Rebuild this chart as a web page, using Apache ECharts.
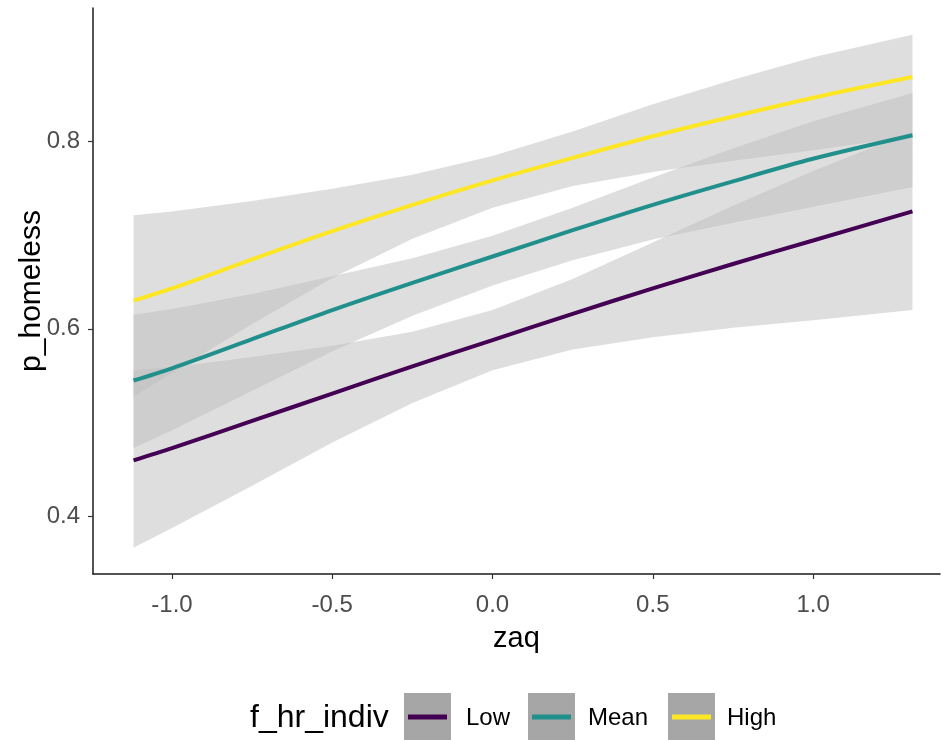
<!DOCTYPE html>
<html>
<head>
<meta charset="utf-8">
<script src="https://cdn.jsdelivr.net/npm/echarts@6/dist/echarts.min.js"></script>
<style>
  html, body { margin: 0; padding: 0; background: #ffffff; }
  #chart { width: 941px; height: 740px; }
</style>
</head>
<body>
<div id="chart"></div>
<script>
// Predicted probability of homelessness by zaq, one curve per level of f_hr_indiv
const groups = ['Low', 'Mean', 'High'];
const zaq = [-1.12, -1.0, -0.75, -0.5, -0.25, 0.0, 0.25, 0.5, 0.75, 1.0, 1.31];

const fitLow  = [0.460, 0.473, 0.502, 0.531, 0.560, 0.588, 0.616, 0.643, 0.669, 0.694, 0.725];
const loLow   = [0.367, 0.388, 0.433, 0.479, 0.521, 0.556, 0.578, 0.591, 0.601, 0.609, 0.620];
const hiLow   = [0.556, 0.559, 0.570, 0.582, 0.597, 0.620, 0.653, 0.692, 0.731, 0.768, 0.810];

const fitMean = [0.545, 0.558, 0.589, 0.620, 0.649, 0.677, 0.705, 0.732, 0.757, 0.781, 0.806];
const loMean  = [0.473, 0.492, 0.534, 0.576, 0.614, 0.646, 0.673, 0.695, 0.713, 0.730, 0.751];
const hiMean  = [0.615, 0.621, 0.637, 0.656, 0.675, 0.699, 0.729, 0.761, 0.792, 0.821, 0.851];

const fitHigh = [0.630, 0.643, 0.674, 0.704, 0.732, 0.758, 0.782, 0.805, 0.826, 0.846, 0.868];
const loHigh  = [0.528, 0.553, 0.605, 0.654, 0.696, 0.729, 0.752, 0.767, 0.779, 0.790, 0.805];
const hiHigh  = [0.721, 0.725, 0.736, 0.749, 0.764, 0.784, 0.810, 0.839, 0.865, 0.889, 0.913];

const xTicks = [-1.0, -0.5, 0.0, 0.5, 1.0];
const yTicks = [0.4, 0.6, 0.8];

const fits  = [fitLow, fitMean, fitHigh];
const lows  = [loLow, loMean, loHigh];
const highs = [hiLow, hiMean, hiHigh];
const colors = ['#440154', '#21908C', '#FDE725'];

const FONT = '"Liberation Sans", Arial, sans-serif';

const pairs = ys => zaq.map((x, i) => [x, ys[i]]);

// Confidence ribbons drawn as polygons through the axis scales
const ribbonSeries = {
  type: 'custom',
  data: groups.map((g, i) => [i]),
  z: 1,
  silent: true,
  renderItem: function (params, api) {
    const k = params.dataIndex;
    const top = zaq.map((x, i) => api.coord([x, highs[k][i]]));
    const bottom = zaq.map((x, i) => api.coord([x, lows[k][i]])).reverse();
    return {
      type: 'polygon',
      shape: { points: top.concat(bottom) },
      style: { fill: 'rgba(190,190,190,0.5)', stroke: null }
    };
  }
};

const lineSeries = groups.map((g, k) => ({
  name: g,
  type: 'line',
  data: pairs(fits[k]),
  smooth: 0.3,
  showSymbol: false,
  z: 3,
  lineStyle: { color: colors[k], width: 4 },
  itemStyle: { color: colors[k] }
}));

// Legend built from the group names
const legendGraphics = [
  { type: 'text', left: 250, top: 702,
    style: { text: 'f_hr_indiv', font: '32px ' + FONT, fill: '#000000' } }
];
const keyX = [404, 528, 668];
const labelX = [466, 588, 727];
groups.forEach((g, k) => {
  legendGraphics.push({ type: 'rect', shape: { x: keyX[k], y: 693, width: 47, height: 50 },
    style: { fill: '#a6a6a6' } });
  legendGraphics.push({ type: 'line', shape: { x1: keyX[k] + 4, y1: 717, x2: keyX[k] + 43, y2: 717 },
    style: { stroke: colors[k], lineWidth: 5 } });
  legendGraphics.push({ type: 'text', left: labelX[k], top: 706,
    style: { text: g, font: '24px ' + FONT, fill: '#000000' } });
});

const chart = echarts.init(document.getElementById('chart'), null, { renderer: 'canvas' });
chart.setOption({
  animation: false,
  backgroundColor: '#ffffff',
  grid: { left: 93, right: 1, top: 8, bottom: 166, containLabel: false, outerBoundsMode: 'none' },
  xAxis: {
    type: 'value',
    min: -1.2465,
    max: 1.396,
    name: 'zaq',
    nameLocation: 'middle',
    nameGap: 50,
    nameTextStyle: { fontFamily: FONT, fontSize: 29, color: '#000000' },
    axisLine: { show: true, onZero: false, lineStyle: { color: '#1a1a1a', width: 1.5 } },
    axisTick: { show: true, length: 5, customValues: xTicks, lineStyle: { color: '#333333', width: 1.2 } },
    axisLabel: { customValues: xTicks, margin: 19, fontFamily: FONT, fontSize: 24, color: '#4d4d4d',
      formatter: v => v.toFixed(1) },
    splitLine: { show: false }
  },
  yAxis: {
    type: 'value',
    min: 0.339,
    max: 0.9415,
    name: 'p_homeless',
    nameLocation: 'middle',
    nameGap: 46,
    nameRotate: 90,
    nameMoveOverlap: false,
    nameTextStyle: { fontFamily: FONT, fontSize: 30, color: '#000000' },
    axisLine: { show: true, onZero: false, lineStyle: { color: '#1a1a1a', width: 1.5 } },
    axisTick: { show: true, length: 5, customValues: yTicks, lineStyle: { color: '#333333', width: 1.2 } },
    axisLabel: { customValues: yTicks, margin: 13, fontFamily: FONT, fontSize: 24, color: '#4d4d4d',
      formatter: v => v.toFixed(1) },
    splitLine: { show: false }
  },
  graphic: legendGraphics,
  series: [ribbonSeries].concat(lineSeries)
});
</script>
</body>
</html>
